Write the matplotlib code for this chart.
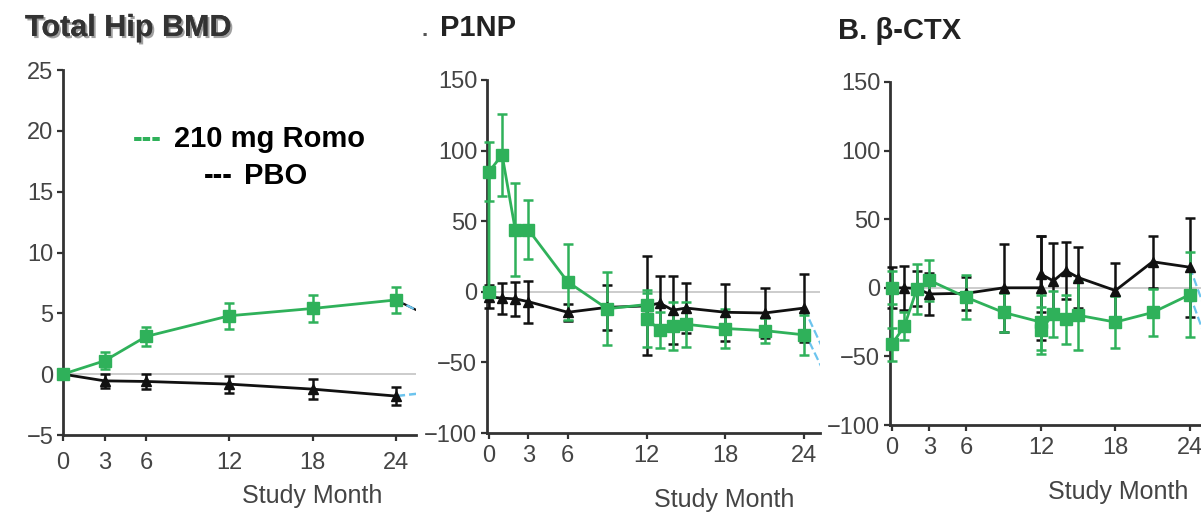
import numpy as np
import matplotlib
matplotlib.use('Agg')
import matplotlib.pyplot as plt
import matplotlib.patheffects as pe

plt.rcParams['font.family'] = ['Liberation Sans', 'DejaVu Sans']

GREEN = '#2fb15a'
BLACK = '#111111'
BLUE = '#6cc4ee'

# Total Hip BMD (% change)
bmd_months = [0, 3, 6, 12, 18, 24]
bmd_romo = [0, 1.1, 3.1, 4.8, 5.4, 6.1]
bmd_romo_err = [0, 0.7, 0.8, 1.05, 1.1, 1.1]
bmd_pbo = [0, -0.55, -0.6, -0.82, -1.23, -1.8]
bmd_pbo_err = [0, 0.6, 0.6, 0.7, 0.8, 0.75]
bmd_tail_months = [24, 25.6]
bmd_tail_romo = [6.1, 5.2]
bmd_tail_pbo = [-1.8, -1.6]

# P1NP (% change)
p1np_romo_months = [0, 0, 1, 2, 3, 6, 9, 12, 12, 13, 14, 15, 18, 21, 24]
p1np_romo = [0, 85, 97, 44, 44, 7, -12, -9, -19, -27, -24.5, -23, -26, -27.5, -30.5]
p1np_romo_err = [0, 21, 29, 33, 21, 27, 26, 8, 20, 13, 17, 16, 14, 9, 14]
p1np_pbo_months = [0, 1, 2, 3, 6, 9, 12, 13, 14, 15, 18, 21, 24]
p1np_pbo = [-3.5, -4.5, -5, -7, -14.5, -11, -10, -8, -13, -11.5, -14.5, -15, -11.5]
p1np_pbo_err = [8, 11, 12, 15, 6, 16, 35, 19, 24, 18, 20, 17.5, 24]
p1np_tail_months = [24, 25.4]
p1np_tail_a = [-12, -40]
p1np_tail_b = [-28, -55]

# beta-CTX (% change)
ctx_romo_months = [0, 0, 1, 2, 3, 6, 9, 12, 12, 13, 14, 15, 18, 21, 24]
ctx_romo = [0, -41, -28, -1, 5.5, -7, -18, -25, -31, -19, -23, -20, -25, -18, -5]
ctx_romo_err = [12, 12, 10, 18, 15, 16, 14, 20, 17, 17, 18, 25, 19, 17, 31]
ctx_pbo_months = [0, 1, 2, 3, 6, 9, 12, 12, 13, 14, 15, 18, 21, 24]
ctx_pbo = [0, 0, -0.5, -4.5, -4, 0, 0, 10, 5, 12.5, 7.5, -2, 19, 15]
ctx_pbo_err = [15, 16, 13, 15, 12, 32, 38, 28, 28, 21, 22, 20, 19, 36]
ctx_tail_months = [24, 25.0]
ctx_tail_a = [15, -10]
ctx_tail_b = [-5, -30]

W, H = 1201, 513


def px_axes(fig, left, top, right, bottom):
    return fig.add_axes([left / W, 1 - bottom / H, (right - left) / W, (bottom - top) / H])


def px_text(fig, x, y, s, **kw):
    return fig.text(x / W, 1 - y / H, s, **kw)


def style_axis(ax, xlim, ylim, yticks, xpad):
    ax.set_xlim(*xlim)
    ax.set_ylim(*ylim)
    ax.set_xticks([0, 3, 6, 12, 18, 24])
    ax.set_yticks(yticks)
    ax.set_yticklabels([str(t).replace('-', '\u2212') for t in yticks])
    for s in ['top', 'right']:
        ax.spines[s].set_visible(False)
    for s in ['left', 'bottom']:
        ax.spines[s].set_color('#333333')
        ax.spines[s].set_linewidth(2.0)
    ax.tick_params(direction='out', length=4, width=1.6, color='#333333',
                   labelsize=17, labelcolor='#444444')
    ax.tick_params(axis='y', pad=3)
    ax.tick_params(axis='x', pad=xpad)
    ax.axhline(0, color='#c4c4c4', lw=1.2, zorder=0)
    ax.patch.set_alpha(0)


def plot_series(ax, months, vals, errs, color, marker, ms):
    ax.errorbar(months, vals, yerr=errs, color=color, marker=marker, ms=ms,
                lw=2.0, elinewidth=1.8, capsize=3.5, capthick=1.8, clip_on=False, zorder=3)


fig = plt.figure(figsize=(W / 100, H / 100), dpi=100)

# panel 1: total hip BMD
ax1 = px_axes(fig, 63, 70, 416, 435)
style_axis(ax1, (0, 25.45), (-5, 25), [-5, 0, 5, 10, 15, 20, 25], 8)
ax1.plot(bmd_tail_months, bmd_tail_romo, color=BLACK, lw=1.6, clip_on=True)
ax1.plot(bmd_tail_months, bmd_tail_romo, color=BLUE, lw=1.6, ls='--', clip_on=True)
ax1.plot(bmd_tail_months, bmd_tail_pbo, color=BLUE, lw=1.8, ls='--', clip_on=True)
plot_series(ax1, bmd_months, bmd_pbo, bmd_pbo_err, BLACK, '^', 7)
plot_series(ax1, bmd_months, bmd_romo, bmd_romo_err, GREEN, 's', 8)

# panel 2: P1NP
ax2 = px_axes(fig, 487, 80, 820, 433)
style_axis(ax2, (-0.15, 25.2), (-100, 150), [-100, -50, 0, 50, 100, 150], 5)
ax2.plot(p1np_tail_months, p1np_tail_a, color=BLUE, lw=1.6, ls='--')
ax2.plot(p1np_tail_months, p1np_tail_b, color=BLUE, lw=1.6, ls='--')
plot_series(ax2, p1np_pbo_months, p1np_pbo, p1np_pbo_err, BLACK, '^', 7)
plot_series(ax2, p1np_romo_months, p1np_romo, p1np_romo_err, GREEN, 's', 8)

# panel 3: beta-CTX
ax3 = px_axes(fig, 890, 82, 1201, 425)
style_axis(ax3, (-0.16, 24.9), (-100, 150), [-100, -50, 0, 50, 100, 150], 5)
ax3.plot(ctx_tail_months, ctx_tail_a, color=BLUE, lw=1.6, ls='--')
ax3.plot(ctx_tail_months, ctx_tail_b, color=BLUE, lw=1.6, ls='--')
plot_series(ax3, ctx_pbo_months, ctx_pbo, ctx_pbo_err, BLACK, '^', 7)
plot_series(ax3, ctx_romo_months, ctx_romo, ctx_romo_err, GREEN, 's', 8)

# titles
px_text(fig, 25, 28, 'Total Hip BMD', fontsize=22, fontweight='bold', color='#333333',
        va='center', ha='left',
        path_effects=[pe.withSimplePatchShadow(offset=(1.5, -1.5), shadow_rgbFace='#888888', alpha=0.8),
                      pe.Normal()])
px_text(fig, 421, 30, '.', fontsize=16, fontweight='bold', color='#555555', va='center', ha='left')
px_text(fig, 440, 28, 'P1NP', fontsize=21, fontweight='bold', color='#222222', va='center', ha='left')
px_text(fig, 838, 31, 'B. \u03b2-CTX', fontsize=21, fontweight='bold', color='#222222', va='center', ha='left')

# x labels
px_text(fig, 312, 496, 'Study Month', fontsize=18, color='#444444', ha='center', va='center')
px_text(fig, 724, 500, 'Study Month', fontsize=18, color='#444444', ha='center', va='center')
px_text(fig, 1118, 492, 'Study Month', fontsize=18, color='#444444', ha='center', va='center')

# legend written as text
px_text(fig, 133, 139, '---', fontsize=21, fontweight='bold', color=GREEN, ha='left', va='center')
px_text(fig, 174, 139, '210 mg Romo', fontsize=21, fontweight='bold', color='black', ha='left', va='center')
px_text(fig, 204, 176, '---', fontsize=21, fontweight='bold', color='black', ha='left', va='center')
px_text(fig, 244, 176, 'PBO', fontsize=21, fontweight='bold', color='black', ha='left', va='center')

plt.savefig('out.png', dpi=100)
